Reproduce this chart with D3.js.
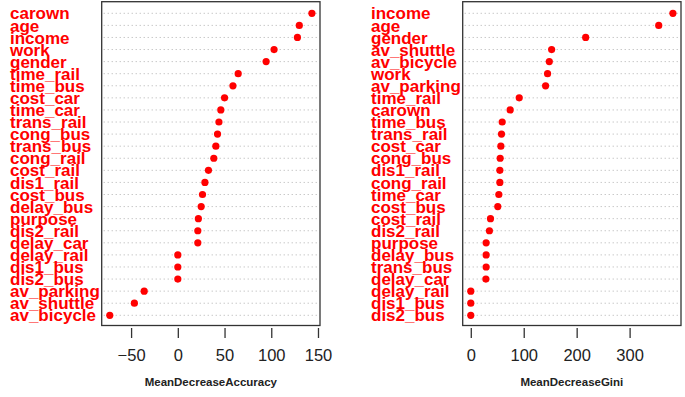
<!DOCTYPE html>
<html><head><meta charset="utf-8">
<script src="https://cdn.jsdelivr.net/npm/d3@7"></script>
<style>body{margin:0;background:#fff}svg{display:block}text{font-family:"Liberation Sans",Arial,sans-serif}</style>
</head><body>
<svg id="c" width="685" height="397"></svg>
<script>
const accNames = ["carown","age","income","work","gender","time_rail","time_bus","cost_car","time_car","trans_rail","cong_bus","trans_bus","cong_rail","cost_rail","dis1_rail","cost_bus","delay_bus","purpose","dis2_rail","delay_car","delay_rail","dis1_bus","dis2_bus","av_parking","av_shuttle","av_bicycle"];
const accValues = [143.5,130,128,103,94.5,64.6,59,50,46,44,42.5,40.7,38.5,32.8,29,26.4,25,22,21.4,21.4,0,0,0,-36,-46.5,-72.8];
const accTicks = [-50,0,50,100,150];
const giniNames = ["income","age","gender","av_shuttle","av_bicycle","work","av_parking","time_rail","carown","time_bus","trans_rail","cost_car","cong_bus","dis1_rail","cong_rail","time_car","cost_bus","cost_rail","dis2_rail","purpose","delay_bus","trans_bus","delay_car","delay_rail","dis1_bus","dis2_bus"];
const giniValues = [381.8,355,217,152.7,148.3,145,141.3,91.5,74.4,59.3,58,56.8,55.5,54.9,54.9,53,51,37.2,35.2,29,29,29,28.5,0,0,0];
const giniTicks = [0,100,200,300];

const svg = d3.select("#c");

function panel(names, values, ticks, title, box, labelX){
  const ext = d3.extent(values);
  const pad = (ext[1]-ext[0])*0.04;
  const x = d3.scaleLinear().domain([ext[0]-pad, ext[1]+pad]).range([box.x0, box.x1]);
  const y = d3.scalePoint().domain(names).range([13.3, 315.3]);
  const g = svg.append("g");
  g.selectAll("line.guide").data(names).join("line")
    .attr("x1", box.x0+2).attr("x2", box.x1-2)
    .attr("y1", d=>y(d)).attr("y2", d=>y(d))
    .attr("stroke","#b0b0b0").attr("stroke-width",1).attr("stroke-dasharray","1,3");
  g.append("rect").attr("x",box.x0).attr("y",box.y0).attr("width",box.x1-box.x0).attr("height",box.y1-box.y0)
    .attr("fill","none").attr("stroke","#333").attr("stroke-width",1.3);
  g.selectAll("circle").data(names).join("circle")
    .attr("cx",(d,i)=>x(values[i])).attr("cy",d=>y(d)).attr("r",3.6).attr("fill","#ff0000");
  g.selectAll("text.lab").data(names).join("text")
    .attr("x",labelX).attr("y",d=>y(d)).attr("dy","0.36em")
    .attr("fill","#ff0000").attr("font-weight","bold").attr("font-size","17px").text(d=>d);
  const ax = d3.axisBottom(x).tickValues(ticks).tickSize(10).tickPadding(11).tickFormat(d3.format("d"));
  const axg = g.append("g").attr("transform",`translate(0,${box.y1+2.5})`).call(ax);
  axg.select(".domain").remove();
  axg.selectAll(".tick line").attr("stroke","#333").attr("stroke-width",1.3);
  axg.selectAll(".tick text").attr("font-size","16.5px").attr("fill","#222").attr("font-family","Liberation Sans, Arial, sans-serif");
  g.append("text").attr("x",(box.x0+box.x1)/2).attr("y",386).attr("text-anchor","middle")
    .attr("font-weight","bold").attr("font-size","11.5px").attr("fill","#222").text(title);
}
panel(accNames, accValues, accTicks, "MeanDecreaseAccuracy", {x0:101.7,x1:320,y0:1.7,y1:325.5}, 10);
panel(giniNames, giniValues, giniTicks, "MeanDecreaseGini", {x0:462.7,x1:681,y0:1.7,y1:325.5}, 371);
</script>
</body></html>
